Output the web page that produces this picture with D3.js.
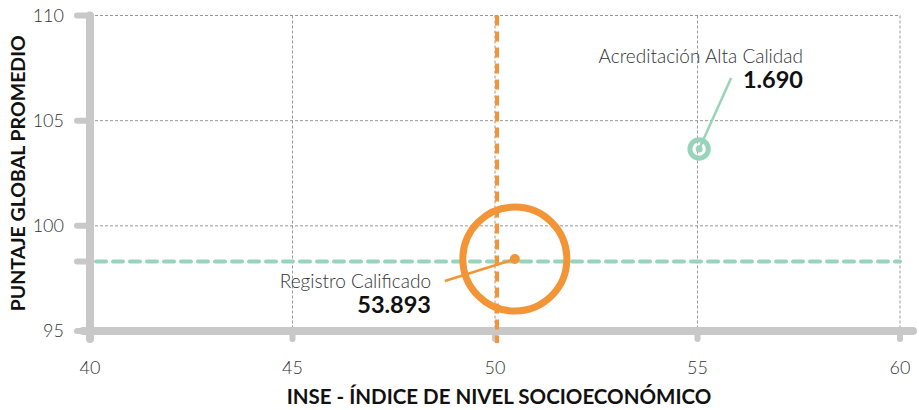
<!DOCTYPE html>
<html><head><meta charset="utf-8">
<script src="https://cdn.jsdelivr.net/npm/d3@7"></script>
<style>
body{margin:0;background:#fff;}
svg{display:block;}
.lt{font-family:Lato,"Open Sans",sans-serif;font-weight:300;fill:#333;}
.bd{font-family:Lato,"Open Sans",sans-serif;font-weight:700;fill:#111;}
</style></head>
<body>
<svg id="c" width="919" height="410"></svg>
<script>
const categories = ["Registro Calificado", "Acreditación Alta Calidad"];
const inse = [50.49, 55.04];
const puntaje = [98.42, 103.65];
const counts = [53893, 1690];
const countLabels = ["53.893", "1.690"];
const xTicks = [40, 45, 50, 55, 60];
const yTicks = [95, 100, 105, 110];
const refInse = 50.05;
const refPuntaje = 98.3;

const colors = ["#f39536", "#98d4bb"];
const svg = d3.select("#c");
const x = d3.scaleLinear().domain([40, 60]).range([90, 900]);
const y = d3.scaleLinear().domain([95, 110]).range([331, 15.5]);
const r = d3.scaleSqrt().domain([0, 53893]).range([0, 52]);
const grey = "#c8c8c8";

// grid
const g = svg.append("g");
g.selectAll(".gx").data(xTicks.slice(1)).join("line")
  .attr("x1", d => x(d)).attr("x2", d => x(d)).attr("y1", y(110)).attr("y2", y(95))
  .attr("stroke", "#999").attr("stroke-width", 1).attr("stroke-dasharray", "3,2");
g.selectAll(".gy").data(yTicks.slice(1)).join("line")
  .attr("x1", x(40)).attr("x2", x(60)).attr("y1", d => y(d)).attr("y2", d => y(d))
  .attr("stroke", "#999").attr("stroke-width", 1).attr("stroke-dasharray", "3,2");

// axes (thick rounded)
const ax = svg.append("g").attr("stroke", grey).attr("stroke-linecap", "round");
ax.append("line").attr("x1", x(40)).attr("x2", x(40)).attr("y1", y(110)).attr("y2", y(95) + 8).attr("stroke-width", 8);
ax.append("line").attr("x1", x(40) - 7).attr("x2", x(60) + 13).attr("y1", y(95)).attr("y2", y(95)).attr("stroke-width", 8);
ax.selectAll(".tx").data(xTicks.slice(1)).join("line")
  .attr("x1", d => x(d)).attr("x2", d => x(d)).attr("y1", y(95)).attr("y2", y(95) + 8).attr("stroke-width", 6);
ax.selectAll(".ty").data(yTicks.concat([refPuntaje])).join("line")
  .attr("x1", x(40) - 13).attr("x2", x(40)).attr("y1", d => y(d)).attr("y2", d => y(d)).attr("stroke-width", 6);

// tick labels
svg.selectAll(".yl").data(yTicks).join("text").attr("class", "lt")
  .attr("x", 64).attr("y", d => y(d)).attr("dy", "0.35em").attr("text-anchor", "end")
  .attr("font-size", 18).text(d => d);
svg.selectAll(".xl").data(xTicks).join("text").attr("class", "lt")
  .attr("x", d => x(d)).attr("y", 374).attr("text-anchor", "middle")
  .attr("font-size", 18).text(d => d);

// axis titles
svg.append("text").attr("class", "bd").attr("font-size", 19.5)
  .attr("transform", `translate(25,${(y(110) + y(95)) / 2}) rotate(-90)`)
  .attr("text-anchor", "middle").text("PUNTAJE GLOBAL PROMEDIO");
svg.append("text").attr("class", "bd").attr("font-size", 20.5)
  .attr("x", 499).attr("y", 404).attr("text-anchor", "middle")
  .text("INSE - ÍNDICE DE NIVEL SOCIOECONÓMICO");

// reference lines
svg.append("line").attr("x1", x(40) + 6).attr("x2", x(60)).attr("y1", y(refPuntaje)).attr("y2", y(refPuntaje))
  .attr("stroke", colors[1]).attr("stroke-width", 4).attr("stroke-linecap", "round").attr("stroke-dasharray", "10,7");
svg.append("line").attr("x1", x(refInse)).attr("x2", x(refInse)).attr("y1", y(110)).attr("y2", y(95) + 12)
  .attr("stroke", colors[0]).attr("stroke-width", 4).attr("stroke-linecap", "butt").attr("stroke-dasharray", "10,6");

// leader lines and labels
const labelPos = [[-70, 22], [32, -71]];
categories.forEach((c, i) => {
  const cx = x(inse[i]), cy = y(puntaje[i]);
  const [dx, dy] = labelPos[i];
  svg.append("line").attr("x1", cx).attr("y1", cy).attr("x2", cx + dx).attr("y2", cy + dy)
    .attr("stroke", colors[i]).attr("stroke-width", 2.5);
});
// bubbles
categories.forEach((c, i) => {
  const cx = x(inse[i]), cy = y(puntaje[i]), rr = r(counts[i]);
  svg.append("circle").attr("cx", cx).attr("cy", cy).attr("r", rr)
    .attr("fill", "none").attr("stroke", colors[i]).attr("stroke-width", i === 0 ? 7 : 5);
  svg.append("circle").attr("cx", cx).attr("cy", cy).attr("r", i === 0 ? 5 : 3.5).attr("fill", colors[i]);
});
const txt = [[431, 288, 313], [803, 63, 88]];
categories.forEach((c, i) => {
  svg.append("text").attr("class", "lt").attr("font-size", 19).attr("text-anchor", "end")
    .attr("x", txt[i][0]).attr("y", txt[i][1]).text(c);
  svg.append("text").attr("class", "bd").attr("font-size", 23.5).attr("text-anchor", "end")
    .attr("x", txt[i][0]).attr("y", txt[i][2]).text(countLabels[i]);
});
</script>
</body></html>
